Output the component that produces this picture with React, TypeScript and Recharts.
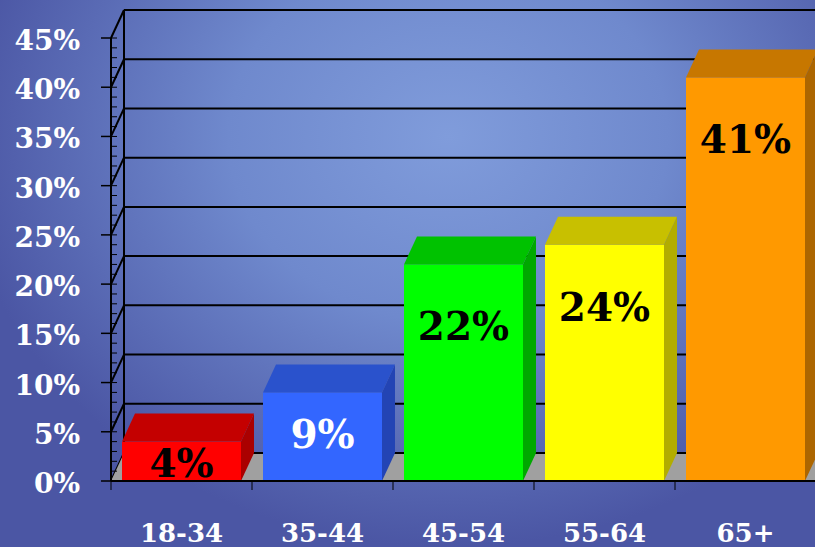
import { Bar, BarChart, CartesianGrid, LabelList, ReferenceArea, XAxis, YAxis } from 'recharts'

// 年齢層ごとの割合（%）
const AGE_GROUPS = ['18-34', '35-44', '45-54', '55-64', '65+']
const SHARES = [4, 9, 22, 24, 41]
const MAJOR_TICKS = [0, 5, 10, 15, 20, 25, 30, 35, 40, 45]
const MINOR_TICKS = Array.from({ length: 46 }, (_, i) => i)

const data = AGE_GROUPS.map((group, i) => ({ group, share: SHARES[i] }))

// 前面・上面・側面・ラベルの色
const FACES = [
  { front: '#ff0000', top: '#c40000', side: '#aa0000', label: '#000' },
  { front: '#3366ff', top: '#2a52cc', side: '#2344b4', label: '#fff' },
  { front: '#00ff00', top: '#00c200', side: '#00a800', label: '#000' },
  { front: '#ffff00', top: '#c8c000', side: '#b2ad00', label: '#000' },
  { front: '#ff9900', top: '#c77700', side: '#ad6600', label: '#000' },
]

const DX = 13
const DY = 28
const FONT = '"DejaVu Serif", serif'

function Bar3D(props: any) {
  const { x, y, width: w, height: h, index } = props
  const c = FACES[index % FACES.length]
  return (
    <g>
      <rect x={x} y={y} width={w} height={h} fill={c.front} />
      <polygon points={`${x},${y} ${x + w},${y} ${x + w + DX},${y - DY} ${x + DX},${y - DY}`} fill={c.top} />
      <polygon points={`${x + w},${y} ${x + w + DX},${y - DY} ${x + w + DX},${y + h - DY} ${x + w},${y + h}`} fill={c.side} />
    </g>
  )
}

function Floor(props: any) {
  const { x, y, width, height } = props
  const b = y + height
  return (
    <g>
      <polygon points={`${x},${b} ${x + DX},${b - DY} ${x + width + DX},${b - DY} ${x + width},${b}`} fill="#a0a0a0" />
      <line x1={x + DX} y1={b - DY} x2={x + width + DX} y2={b - DY} stroke="#000" strokeWidth={2} />
      <line x1={x + DX} y1={y - DY} x2={x + DX} y2={b - DY} stroke="#000" strokeWidth={2} />
    </g>
  )
}

function BackLine(p: any) {
  return (
    <g key={p.key}>
      <line x1={p.x1 + DX} y1={p.y1 - DY} x2={p.x2 + DX} y2={p.y2 - DY} stroke="#000" strokeWidth={2} />
      <line x1={p.x1} y1={p.y1} x2={p.x1 + DX} y2={p.y1 - DY} stroke="#000" strokeWidth={2} />
    </g>
  )
}

function YTick({ x, y, payload }: any) {
  const v = payload.value
  const major = v % 5 === 0
  return (
    <g>
      <line x1={x} y1={y} x2={x + 6} y2={y} stroke="#000" strokeWidth={1} />
      {major && <line x1={x - 10} y1={y} x2={x} y2={y} stroke="#000" strokeWidth={1.5} />}
      {major && (
        <text x={x - 31} y={y} dy={12} textAnchor="end" fill="#fff" fontFamily={FONT} fontWeight="bold" fontSize={28}>
          {v}%
        </text>
      )}
    </g>
  )
}

function XTick({ x, y, payload }: any) {
  const half = payload.offset ?? 70.5
  return (
    <g>
      <line x1={x - half} y1={y} x2={x - half} y2={y + 9} stroke="#000" strokeWidth={1} />
      <text x={x} y={y + 61} textAnchor="middle" fill="#fff" fontFamily={FONT} fontWeight="bold" fontSize={26}>
        {payload.value}
      </text>
    </g>
  )
}

function ShareLabel(props: any) {
  const { x, y, width, height, value, index } = props
  // 文字のベースライン位置（バー上端からの距離）
  const base = y + Math.min(height - 2, 20 + height * 0.4, 76)
  return (
    <text
      x={x + width / 2}
      y={base}
      textAnchor="middle"
      fill={FACES[index % FACES.length].label}
      fontFamily={FONT}
      fontWeight="bold"
      fontSize={39}
    >
      {value}%
    </text>
  )
}

export default function App() {
  return (
    <div
      style={{
        width: 815,
        height: 547,
        overflow: 'hidden',
        position: 'relative',
        background: 'radial-gradient(ellipse 60% 75% at 55% 25%, #809cdb 0%, #6f89cd 45%, #4b56a4 100%)',
      }}
    >
      <style>{'body{margin:0}'}</style>
      <BarChart width={830} height={547} data={data} margin={{ top: 38, right: 14, bottom: 0, left: 0 }} barCategoryGap={11}>
        <CartesianGrid vertical={false} horizontalValues={MAJOR_TICKS} horizontal={BackLine} />
        <ReferenceArea y1={0} y2={45} shape={<Floor />} ifOverflow="visible" />
        <XAxis dataKey="group" height={66} axisLine={{ stroke: '#000', strokeWidth: 2 }} tickLine={false} tickSize={0} tickMargin={0} tick={<XTick />} interval={0} />
        <YAxis
          type="number"
          domain={[0, 45]}
          ticks={MINOR_TICKS}
          interval={0}
          width={111}
          axisLine={{ stroke: '#000', strokeWidth: 2 }}
          tickLine={false}
          tickSize={0}
          tickMargin={0}
          tick={<YTick />}
        />
        <Bar dataKey="share" shape={<Bar3D />} isAnimationActive={false}>
          <LabelList dataKey="share" content={<ShareLabel />} />
        </Bar>
      </BarChart>
    </div>
  )
}
